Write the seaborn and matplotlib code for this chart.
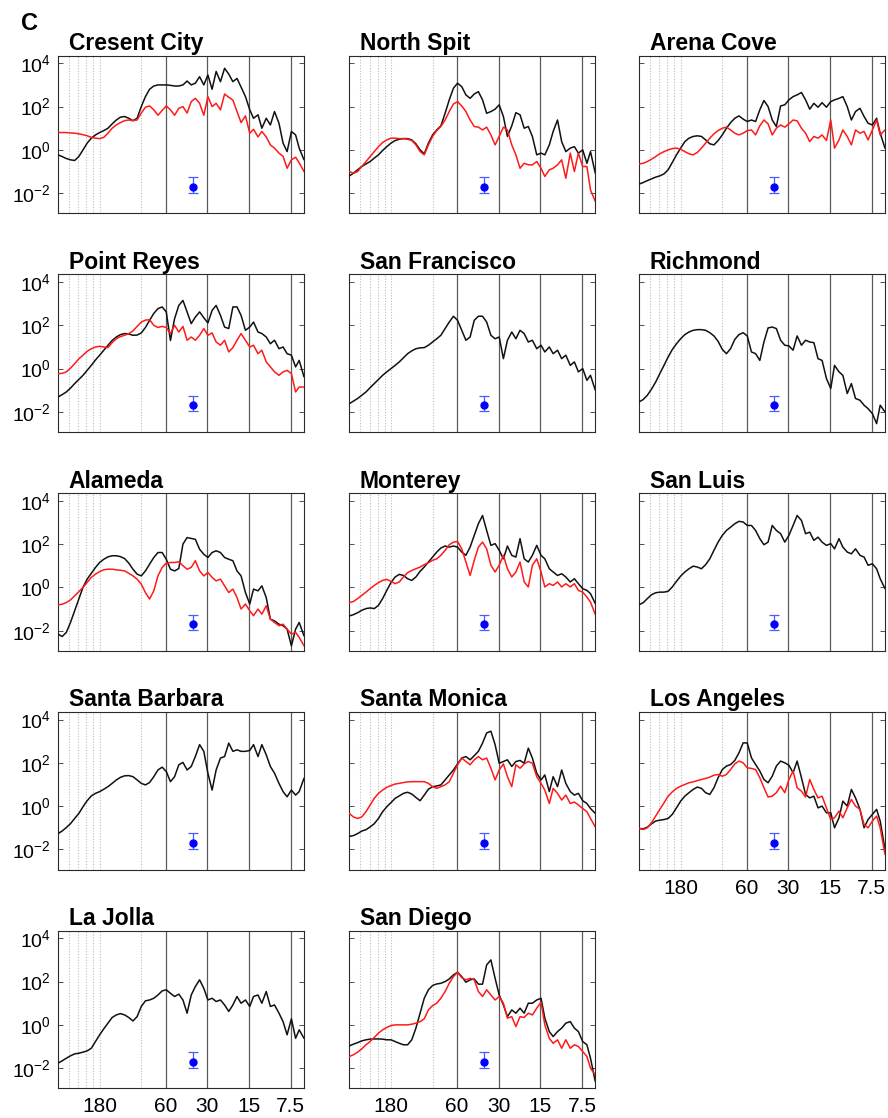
import numpy as np
import pandas as pd
import matplotlib
matplotlib.use("Agg")
import matplotlib.pyplot as plt
from matplotlib.ticker import NullLocator
import seaborn as sns

# Wave period (minutes) of each spectral estimate, long periods on the left
period_min = [360, 335.9, 313.4, 292.4, 272.8, 254.6, 237.5, 221.6, 206.8, 192.9,
              180, 167.9, 156.7, 146.2, 136.4, 127.3, 118.8, 110.8, 103.4, 96.5,
              90, 84.0, 78.4, 73.1, 68.2, 63.6, 59.4, 55.4, 51.7, 48.2,
              45, 42.0, 39.2, 36.6, 34.1, 31.8, 29.7, 27.7, 25.9, 24.1,
              22.5, 21.0, 19.6, 18.3, 17.1, 15.9, 14.8, 13.9, 12.9, 12.1,
              11.25, 10.5, 9.8, 9.1, 8.5, 7.95, 7.4, 6.9, 6.5, 6.0]

# log10 spectral density: observed (black) and modelled (red) per tide gauge
crescent_city_obs = [-0.23, -0.31, -0.40, -0.46, -0.49, -0.31, 0.00, 0.31, 0.54, 0.69,
                     0.80, 0.89, 1.00, 1.20, 1.38, 1.51, 1.54, 1.46, 1.35, 1.46,
                     2.00, 2.46, 2.80, 2.95, 3.00, 3.00, 3.00, 2.98, 2.95, 2.95,
                     3.00, 3.18, 3.00, 3.08, 3.38, 3.00, 3.46, 2.80, 3.62, 3.15,
                     3.77, 3.50, 3.15, 3.30, 2.90, 2.46, 1.85, 1.46, 1.62, 1.00,
                     1.46, 1.15, 1.77, 1.23, 0.31, -0.08, 0.85, 0.69, 0.08, -0.46]
crescent_city_model = [0.80, 0.80, 0.80, 0.78, 0.77, 0.74, 0.70, 0.65, 0.58, 0.54,
                       0.52, 0.58, 0.77, 1.00, 1.15, 1.26, 1.35, 1.38, 1.35, 1.38,
                       1.70, 1.97, 2.03, 1.85, 1.60, 1.82, 2.03, 1.85, 1.60, 1.92,
                       2.00, 1.70, 2.23, 2.38, 2.15, 1.60, 2.46, 2.00, 2.15, 1.85,
                       2.58, 2.43, 2.30, 1.77, 1.26, 1.57, 0.77, 0.95, 0.60, 0.85,
                       0.60, 0.23, 0.08, -0.15, -0.30, -0.85, -0.46, -0.34, -0.60, -1.00]

north_spit_obs = [-1.20, -1.08, -0.92, -0.77, -0.65, -0.54, -0.38, -0.23, -0.03, 0.15,
                  0.31, 0.43, 0.49, 0.52, 0.52, 0.46, 0.28, 0.00, -0.18, 0.31,
                  0.69, 0.92, 1.11, 1.69, 2.31, 2.85, 3.08, 2.92, 2.54, 2.38,
                  2.58, 2.69, 2.31, 1.69, 1.77, 1.88, 2.08, 1.54, 0.62, 1.11,
                  1.72, 1.62, 1.00, 1.08, 0.62, -0.23, -0.15, -0.23, 0.23, 0.85,
                  1.38, 0.38, -0.08, 0.08, 0.15, -0.15, 0.00, -0.62, -0.08, -1.08]
north_spit_model = [-1.00, -1.08, -1.00, -0.77, -0.54, -0.31, -0.08, 0.15, 0.34, 0.46,
                    0.54, 0.54, 0.52, 0.52, 0.49, 0.43, 0.23, -0.08, -0.23, 0.23,
                    0.62, 0.89, 1.08, 1.38, 1.77, 2.12, 2.23, 2.03, 1.77, 1.38,
                    1.08, 1.05, 0.92, 1.05, 0.69, 0.23, 0.62, 1.05, 0.92, 0.23,
                    -0.23, -0.85, -0.62, -0.69, -0.69, -0.54, -0.85, -1.23, -0.92, -0.85,
                    -0.69, -0.46, -1.31, -0.15, -1.00, -0.15, -0.77, -0.77, -1.85, -2.38]

arena_cove_obs = [-1.58, -1.51, -1.42, -1.34, -1.26, -1.20, -1.11, -0.92, -0.58, -0.23,
                  0.08, 0.38, 0.54, 0.62, 0.65, 0.62, 0.46, 0.28, 0.23, 0.43,
                  0.69, 1.00, 1.26, 1.46, 1.57, 1.42, 1.31, 1.38, 1.31, 1.85,
                  2.28, 2.00, 1.38, 1.08, 2.03, 2.08, 2.31, 2.46, 2.54, 2.65,
                  2.31, 1.88, 2.15, 1.97, 2.18, 1.97, 2.23, 2.31, 2.38, 2.46,
                  2.00, 1.38, 1.77, 1.92, 1.54, 1.23, 1.15, 1.46, 0.77, 0.08]
arena_cove_model = [-0.65, -0.62, -0.54, -0.43, -0.31, -0.18, -0.08, 0.00, 0.06, 0.08,
                    0.03, -0.08, -0.18, -0.23, -0.12, 0.08, 0.31, 0.54, 0.74, 0.89,
                    1.00, 1.05, 0.92, 0.77, 0.69, 0.77, 0.89, 0.92, 0.69, 1.11,
                    1.38, 1.20, 0.69, 1.00, 1.15, 1.05, 1.20, 1.38, 1.34, 1.00,
                    0.77, 0.38, 0.62, 0.54, 0.69, 0.43, 1.38, 0.08, 0.46, 0.92,
                    0.62, 0.23, 0.92, 0.77, 0.85, 0.46, 0.92, 1.38, 0.69, 0.92]

point_reyes_obs = [-1.31, -1.20, -1.08, -0.90, -0.69, -0.50, -0.31, -0.08, 0.15, 0.40,
                   0.62, 0.85, 1.08, 1.30, 1.46, 1.57, 1.62, 1.60, 1.54, 1.55,
                   1.65, 1.90, 2.23, 2.55, 2.77, 2.85, 2.62, 1.30, 2.31, 2.92,
                   3.15, 2.62, 2.08, 2.38, 2.62, 2.35, 2.11, 2.69, 2.92, 2.46,
                   1.92, 1.85, 2.85, 2.85, 2.46, 1.77, 1.92, 2.15, 1.69, 1.62,
                   1.46, 1.15, 1.31, 0.92, 1.00, 0.69, 0.62, 0.08, 0.38, -0.38]
point_reyes_model = [-0.23, -0.22, -0.15, 0.02, 0.23, 0.45, 0.62, 0.80, 0.92, 1.00,
                     1.03, 1.00, 0.97, 1.20, 1.38, 1.48, 1.54, 1.62, 1.74, 1.95,
                     2.15, 2.24, 2.26, 2.00, 1.90, 1.95, 1.90, 1.62, 2.00, 1.69,
                     1.95, 1.31, 1.46, 1.31, 1.54, 1.85, 1.54, 1.65, 1.23, 1.08,
                     1.31, 0.77, 0.97, 1.31, 1.62, 1.31, 1.00, 1.08, 0.69, 0.85,
                     0.31, 0.08, -0.15, -0.31, -0.15, -0.08, -0.23, -1.08, -0.85, -0.85]

san_francisco_obs = [-1.62, -1.50, -1.38, -1.23, -1.08, -0.88, -0.69, -0.50, -0.31, -0.15,
                     0.00, 0.15, 0.31, 0.50, 0.69, 0.82, 0.92, 0.96, 0.97, 1.08,
                     1.23, 1.38, 1.54, 1.85, 2.15, 2.42, 2.23, 1.77, 1.31, 1.46,
                     2.23, 2.42, 2.42, 2.15, 1.54, 1.38, 1.46, 0.46, 1.31, 1.69,
                     1.38, 1.77, 1.62, 1.23, 1.31, 0.92, 1.08, 0.77, 1.00, 0.69,
                     0.85, 0.46, 0.62, 0.15, 0.31, -0.15, 0.00, -0.54, -0.31, -1.00]

richmond_obs = [-1.54, -1.43, -1.23, -0.95, -0.62, -0.23, 0.15, 0.54, 0.88, 1.15,
                1.38, 1.57, 1.69, 1.77, 1.80, 1.80, 1.77, 1.66, 1.51, 1.26,
                0.89, 0.69, 0.92, 1.35, 1.57, 1.66, 1.51, 0.77, 0.69, 0.38,
                1.23, 1.88, 1.92, 1.85, 1.31, 1.08, 1.05, 0.85, 1.51, 1.08,
                1.31, 1.23, 1.20, 0.46, 0.38, -0.46, -0.92, 0.15, -0.15, -0.31,
                -1.15, -0.69, -1.38, -1.46, -1.69, -1.85, -2.08, -2.54, -1.69, -2.00]

alameda_obs = [-2.16, -2.27, -2.08, -1.62, -1.08, -0.54, 0.00, 0.38, 0.65, 0.92,
               1.15, 1.30, 1.41, 1.46, 1.46, 1.42, 1.33, 1.12, 0.84, 0.61,
               0.53, 0.76, 1.07, 1.38, 1.61, 1.61, 1.30, 0.84, 0.76, 0.87,
               2.00, 2.30, 2.26, 2.22, 1.76, 1.53, 1.38, 1.61, 1.69, 1.61,
               1.38, 1.30, 1.23, 0.76, 0.53, -0.24, -0.77, -0.08, -0.16, 0.07,
               -0.47, -1.47, -1.55, -1.70, -1.77, -1.93, -2.70, -1.93, -1.62, -2.24]
alameda_model = [-0.81, -0.78, -0.70, -0.58, -0.39, -0.20, 0.00, 0.23, 0.46, 0.61,
                 0.73, 0.81, 0.84, 0.84, 0.81, 0.79, 0.76, 0.65, 0.53, 0.38,
                 0.15, -0.24, -0.54, -0.16, 0.53, 0.92, 1.12, 1.15, 1.15, 1.18,
                 1.00, 0.84, 0.92, 1.23, 0.76, 0.53, 0.69, 0.46, 0.30, 0.38,
                 0.07, -0.24, -0.08, -0.47, -1.00, -0.77, -1.08, -1.31, -1.00, -1.24,
                 -0.85, -1.47, -1.62, -1.77, -1.70, -1.93, -2.16, -2.08, -2.31, -2.70]

monterey_obs = [-1.32, -1.26, -1.17, -1.06, -0.98, -0.95, -0.98, -0.83, -0.52, -0.14,
                0.22, 0.48, 0.60, 0.55, 0.40, 0.32, 0.48, 0.74, 0.94, 1.17,
                1.40, 1.63, 1.82, 1.91, 1.86, 1.91, 1.86, 1.63, 1.48, 1.86,
                2.40, 2.94, 3.32, 2.63, 1.94, 2.02, 1.71, 1.32, 1.91, 1.48,
                1.40, 2.25, 1.32, 1.17, 1.48, 1.94, 1.48, 1.32, 0.86, 0.71,
                0.55, 0.63, 0.48, 0.25, 0.40, 0.17, -0.06, -0.14, -0.29, -0.75]
monterey_model = [-0.71, -0.65, -0.52, -0.37, -0.22, -0.06, 0.09, 0.22, 0.32, 0.37,
                  0.28, 0.17, 0.25, 0.48, 0.68, 0.78, 0.86, 0.94, 1.05, 1.14,
                  1.25, 1.32, 1.48, 1.71, 1.97, 2.09, 2.12, 1.78, 1.17, 0.55,
                  1.25, 1.86, 2.09, 1.78, 1.02, 0.71, 1.02, 1.48, 0.86, 0.48,
                  0.71, 1.17, 0.25, 0.02, 1.02, 1.32, 0.71, 0.02, 0.17, 0.09,
                  0.25, 0.02, 0.17, 0.02, 0.17, -0.14, -0.22, -0.45, -0.68, -1.25]

san_luis_obs = [-0.80, -0.71, -0.52, -0.34, -0.25, -0.22, -0.22, -0.18, 0.02, 0.28,
                0.52, 0.71, 0.86, 0.98, 0.94, 0.86, 1.05, 1.32, 1.71, 2.09,
                2.40, 2.63, 2.78, 2.94, 3.05, 3.02, 2.86, 2.86, 2.63, 2.25,
                1.97, 2.09, 2.86, 2.63, 2.48, 2.09, 2.40, 2.86, 3.32, 3.09,
                2.48, 2.55, 2.17, 2.32, 2.09, 1.94, 2.02, 1.78, 2.25, 1.86,
                1.63, 1.55, 1.78, 1.48, 1.40, 1.02, 1.09, 0.86, 0.40, -0.06]

santa_barbara_obs = [-1.27, -1.15, -0.99, -0.81, -0.57, -0.34, -0.03, 0.25, 0.47, 0.59,
                     0.67, 0.78, 0.90, 1.05, 1.21, 1.33, 1.40, 1.41, 1.36, 1.21,
                     1.05, 0.98, 1.09, 1.36, 1.67, 1.80, 1.60, 1.13, 1.36, 1.91,
                     2.02, 1.67, 1.83, 2.29, 2.84, 2.53, 1.52, 0.74, 1.67, 2.22,
                     2.29, 2.91, 2.53, 2.60, 2.53, 2.53, 2.57, 2.84, 2.29, 2.84,
                     2.37, 1.83, 1.52, 1.05, 0.67, 0.43, 0.74, 0.51, 0.67, 1.29]

santa_monica_obs = [-1.40, -1.36, -1.27, -1.15, -1.09, -0.96, -0.81, -0.57, -0.26, -0.03,
                    0.16, 0.36, 0.47, 0.59, 0.64, 0.56, 0.40, 0.25, 0.51, 0.78,
                    0.90, 0.93, 0.98, 1.21, 1.44, 1.67, 1.95, 2.22, 2.29, 2.14,
                    2.33, 2.53, 2.91, 3.38, 3.46, 2.84, 1.98, 2.06, 2.14, 1.83,
                    2.06, 2.11, 1.98, 2.68, 2.22, 1.52, 1.21, 1.44, 0.67, 1.36,
                    0.90, 1.67, 1.05, 0.67, 0.51, 0.59, 0.25, 0.12, -0.11, -0.34]
santa_monica_model = [-0.34, -0.50, -0.57, -0.50, -0.26, 0.05, 0.36, 0.59, 0.74, 0.87,
                      0.95, 1.02, 1.05, 1.09, 1.12, 1.13, 1.13, 1.13, 1.13, 1.05,
                      0.90, 0.82, 0.90, 0.98, 1.13, 1.52, 1.91, 2.22, 2.06, 1.91,
                      2.14, 2.29, 2.14, 2.22, 1.75, 1.21, 1.67, 1.95, 1.36, 0.90,
                      1.91, 1.75, 1.95, 2.06, 1.98, 1.36, 1.05, 0.74, 0.12, 0.82,
                      0.59, 0.28, 0.51, 0.12, 0.19, 0.05, -0.11, -0.26, -0.57, -0.96]

los_angeles_obs = [-1.03, -1.05, -0.97, -0.82, -0.69, -0.65, -0.62, -0.57, -0.38, -0.08,
                   0.23, 0.46, 0.62, 0.77, 0.88, 0.82, 0.62, 0.54, 0.85, 1.31,
                   1.69, 1.85, 1.92, 2.11, 2.46, 2.92, 2.92, 2.23, 1.92, 1.62,
                   1.23, 1.08, 1.38, 1.85, 2.08, 2.00, 1.89, 1.54, 2.08, 1.31,
                   0.54, 0.38, 0.46, -0.08, 0.00, -0.31, -0.31, -1.00, -0.54, 0.23,
                   0.00, 0.77, 0.38, -0.15, -1.00, -0.62, -0.38, -0.15, -0.69, -2.00]
los_angeles_model = [-1.03, -1.08, -1.00, -0.77, -0.46, -0.15, 0.15, 0.46, 0.66, 0.82,
                     0.92, 1.00, 1.08, 1.12, 1.18, 1.23, 1.28, 1.34, 1.43, 1.46,
                     1.38, 1.46, 1.69, 1.95, 2.08, 2.00, 1.77, 1.74, 1.69, 1.31,
                     0.85, 0.42, 0.46, 0.62, 0.92, 0.62, 1.23, 1.62, 0.85, 0.69,
                     0.42, 1.23, 0.77, 0.38, 0.46, -0.08, -0.62, -0.54, -0.23, -0.54,
                     -0.08, 0.31, 0.00, -0.15, -0.85, -1.00, -0.69, -0.46, -1.00, -2.23]

la_jolla_obs = [-1.77, -1.66, -1.54, -1.43, -1.34, -1.31, -1.26, -1.20, -1.08, -0.77,
                -0.46, -0.18, 0.08, 0.34, 0.46, 0.52, 0.46, 0.34, 0.18, 0.38,
                0.85, 1.11, 1.15, 1.23, 1.38, 1.57, 1.62, 1.46, 1.31, 1.42,
                1.15, 0.54, 1.38, 1.77, 2.08, 1.69, 1.15, 1.23, 1.08, 1.15,
                0.92, 0.62, 0.92, 1.31, 1.00, 1.15, 0.85, 1.31, 1.38, 1.00,
                1.54, 0.85, 0.92, 0.54, 0.15, -0.46, 0.28, -0.62, -0.23, -0.62]

san_diego_obs = [-0.97, -0.89, -0.82, -0.74, -0.69, -0.66, -0.65, -0.65, -0.66, -0.69,
                 -0.69, -0.77, -0.85, -0.92, -0.92, -0.69, -0.15, 0.54, 1.23, 1.62,
                 1.82, 1.89, 1.92, 2.00, 2.12, 2.31, 2.43, 2.23, 1.97, 2.08,
                 2.12, 1.88, 1.88, 2.77, 3.00, 2.15, 1.38, 0.92, 0.38, 0.69,
                 0.54, 0.77, 0.54, 1.00, 1.00, 1.15, 1.23, 0.31, -0.31, -0.54,
                 -0.31, -0.15, 0.08, 0.15, -0.15, -0.31, -0.77, -0.92, -1.54, -2.62]
san_diego_model = [-1.46, -1.38, -1.26, -1.11, -0.92, -0.77, -0.58, -0.38, -0.23, -0.12,
                   -0.03, 0.00, 0.00, 0.00, 0.00, 0.03, 0.08, 0.15, 0.28, 0.69,
                   0.89, 1.00, 1.23, 1.54, 1.92, 2.23, 2.43, 2.18, 2.08, 2.15,
                   2.08, 1.54, 1.31, 1.62, 1.38, 1.15, 1.31, 1.00, 0.31, 0.38,
                   -0.08, 0.38, 0.34, 0.54, 0.46, 0.77, 1.05, 0.00, -0.62, -0.85,
                   -0.69, -1.08, -0.69, -1.08, -0.92, -1.00, -1.23, -1.46, -2.00, -2.31]

station_names = ["Cresent City", "North Spit", "Arena Cove",
                 "Point Reyes", "San Francisco", "Richmond",
                 "Alameda", "Monterey", "San Luis",
                 "Santa Barbara", "Santa Monica", "Los Angeles",
                 "La Jolla", "San Diego"]
observed_series = [crescent_city_obs, north_spit_obs, arena_cove_obs,
                   point_reyes_obs, san_francisco_obs, richmond_obs,
                   alameda_obs, monterey_obs, san_luis_obs,
                   santa_barbara_obs, santa_monica_obs, los_angeles_obs,
                   la_jolla_obs, san_diego_obs]
model_series = [crescent_city_model, north_spit_model, arena_cove_model,
                point_reyes_model, None, None,
                alameda_model, monterey_model, None,
                None, santa_monica_model, los_angeles_model,
                None, san_diego_model]

# 95% confidence interval of the spectral estimates
ci_period = 38.0
ci_center = 0.02
ci_low = 0.0107
ci_high = 0.055

x_ticks = [180, 60, 30, 15, 7.5]
x_tick_labels = ["180", "60", "30", "15", "7.5"]
major_periods = [60, 30, 15, 7.5]
minor_periods = [300, 257, 225, 200, 180, 90]
y_ticks = [1e-2, 1e0, 1e2, 1e4]
y_tick_labels = [r"$\mathregular{10^{-2}}$", r"$\mathregular{10^{0}}$",
                 r"$\mathregular{10^{2}}$", r"$\mathregular{10^{4}}$"]

sns.set_style("white")
plt.rcParams["font.family"] = ["Liberation Sans", "DejaVu Sans"]
plt.rcParams["text.color"] = "black"
plt.rcParams["xtick.color"] = "black"
plt.rcParams["ytick.color"] = "black"
plt.rcParams["axes.labelcolor"] = "black"

W, H = 888, 1118
fig = plt.figure(figsize=(W / 100, H / 100), dpi=100)

col_left = [58, 349.3, 639]
ax_w, ax_h = 246, 157.6
row_top0, row_step = 55.7, 218.75
bottom_panels = {11, 12, 13}

for i, name in enumerate(station_names):
    r, c = divmod(i, 3)
    top = row_top0 + r * row_step
    ax = fig.add_axes([col_left[c] / W, 1 - (top + ax_h) / H, ax_w / W, ax_h / H])
    ax.set_xscale("log")
    ax.set_yscale("log")

    for p in minor_periods:
        ax.axvline(p, color="#bdbdbd", lw=0.8, ls=(0, (1, 1.5)), zorder=1)
    for p in major_periods:
        ax.axvline(p, color="#5a5a5a", lw=0.9, zorder=1)

    frames = [pd.DataFrame({"period": period_min,
                            "psd": np.power(10.0, observed_series[i]),
                            "series": "observed"})]
    if model_series[i] is not None:
        frames.append(pd.DataFrame({"period": period_min,
                                    "psd": np.power(10.0, model_series[i]),
                                    "series": "model"}))
    df = pd.concat(frames, ignore_index=True)
    order = [s for s in ["observed", "model"] if s in set(df["series"])]
    sns.lineplot(data=df, x="period", y="psd", hue="series", hue_order=order,
                 palette={"observed": "#111111", "model": "#ff1a1a"},
                 estimator=None, sort=False, legend=False, linewidth=1.1,
                 ax=ax, zorder=3)

    ax.errorbar([ci_period], [ci_center],
                yerr=[[ci_center - ci_low], [ci_high - ci_center]],
                fmt="o", color="#0000ff", ecolor="#4a5cff", elinewidth=0.9,
                capsize=3.5, capthick=0.9, markersize=5, zorder=5)

    ax.set_xlim(360, 6)
    ax.set_ylim(10 ** -2.93, 10 ** 4.35)
    ax.set_xticks(x_ticks)
    ax.set_xticklabels(x_tick_labels if i in bottom_panels else [])
    ax.set_yticks(y_ticks)
    ax.set_yticklabels(y_tick_labels if c == 0 else [])
    ax.xaxis.set_minor_locator(NullLocator())
    ax.yaxis.set_minor_locator(NullLocator())
    ax.tick_params(axis="x", length=0, labelsize=15, pad=6.5, labelcolor="black")
    ax.tick_params(axis="y", direction="in", length=3.5, width=0.6,
                   left=True, right=True, labelsize=14, pad=5,
                   color="#333333", labelcolor="black")
    ax.set_xlabel("")
    ax.set_ylabel("")
    for sp in ax.spines.values():
        sp.set_color("#2a2a2a")
        sp.set_linewidth(0.8)

    ax.text(0.043, 1.036, name, transform=ax.transAxes, ha="left",
            va="baseline", fontsize=16.5, fontweight="bold", color="black")

fig.text(21 / W, 1 - 30 / H, "C", fontsize=17, fontweight="bold",
         va="baseline", ha="left", color="black")

fig.savefig("out.png", dpi=100)
